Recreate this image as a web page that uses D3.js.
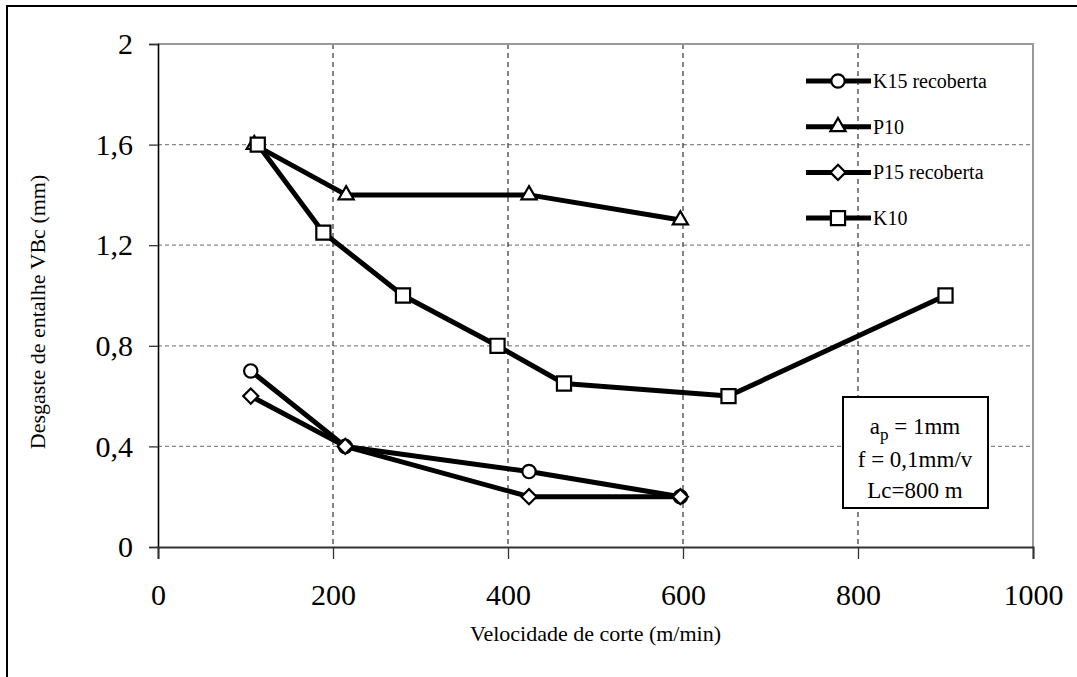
<!DOCTYPE html>
<html>
<head>
<meta charset="utf-8">
<script src="https://cdn.jsdelivr.net/npm/d3@7"></script>
<style>
  body { margin: 0; background: #fff; }
  svg text { font-family: "Liberation Serif", "Tinos", "Times New Roman", "Nimbus Roman", "DejaVu Serif", serif; fill: #000; }
</style>
</head>
<body>
<svg id="chart" width="1077" height="677"></svg>
<script>
// velocidade de corte (m/min) and desgaste VBc (mm) for each tool
const k15Speed = [106, 214, 424, 597];
const k15Wear  = [0.7, 0.4, 0.3, 0.2];
const p10Speed = [110, 215, 424, 597];
const p10Wear  = [1.6, 1.4, 1.4, 1.3];
const p15Speed = [106, 214, 424, 597];
const p15Wear  = [0.6, 0.4, 0.2, 0.2];
const k10Speed = [114, 189, 280, 388, 464, 652, 900];
const k10Wear  = [1.6, 1.25, 1.0, 0.8, 0.65, 0.6, 1.0];

const xTicks = [0, 200, 400, 600, 800, 1000];
const yTicks = [0, 0.4, 0.8, 1.2, 1.6, 2];
const noteLines = ["f = 0,1mm/v", "Lc=800 m"];

// rotated square looks closer to the Excel diamond than d3.symbolDiamond
const squareDiamond = {
  draw(ctx, size) {
    const r = Math.sqrt(size / 2);
    ctx.moveTo(0, -r); ctx.lineTo(r, 0); ctx.lineTo(0, r); ctx.lineTo(-r, 0); ctx.closePath();
  }
};

const series = [
  { name: "K15 recoberta", sym: d3.symbolCircle, size: 140, x: k15Speed, y: k15Wear },
  { name: "P10", sym: d3.symbolTriangle, size: 100, x: p10Speed, y: p10Wear },
  { name: "P15 recoberta", sym: squareDiamond, size: 115, x: p15Speed, y: p15Wear },
  { name: "K10", sym: d3.symbolSquare, size: 200, x: k10Speed, y: k10Wear }
];

const svg = d3.select("#chart");
const pLeft = 158, pRight = 1033, pTop = 44, pBottom = 547;
const serif = '"Liberation Serif", "Tinos", "Times New Roman", "Nimbus Roman", "DejaVu Serif", serif';

const x = d3.scaleLinear().domain([0, 1000]).range([pLeft, pRight]);
const y = d3.scaleLinear().domain([0, 2]).range([pBottom, pTop]);

// outer frame (runs off the right/bottom edge)
svg.append("rect").attr("x", 7).attr("y", 6).attr("width", 1100).attr("height", 700)
  .attr("fill", "none").attr("stroke", "#000").attr("stroke-width", 2);

// grid
svg.append("g").selectAll("line").data(yTicks.filter(d => d > 0 && d < 2)).join("line")
  .attr("x1", pLeft).attr("x2", pRight).attr("y1", d => y(d)).attr("y2", d => y(d))
  .attr("stroke", "#888").attr("stroke-width", 1.2).attr("stroke-dasharray", "4,3");
svg.append("g").selectAll("line").data(xTicks.filter(d => d > 0 && d < 1000)).join("line")
  .attr("x1", d => x(d)).attr("x2", d => x(d)).attr("y1", pTop).attr("y2", pBottom)
  .attr("stroke", "#333").attr("stroke-width", 1.2).attr("stroke-dasharray", "5,4");

// plot border top/right
svg.append("path").attr("d", `M${pLeft},${pTop}H${pRight}V${pBottom}`)
  .attr("fill", "none").attr("stroke", "#999").attr("stroke-width", 2);

// axes
const fmt = d => String(d).replace(".", ",");
const yAxis = svg.append("g").attr("transform", `translate(${pLeft},0)`)
  .call(d3.axisLeft(y).tickValues(yTicks).tickFormat(fmt).tickSize(9).tickPadding(16));
const xAxis = svg.append("g").attr("transform", `translate(0,${pBottom})`)
  .call(d3.axisBottom(x).tickValues(xTicks).tickFormat(d => String(d)).tickSize(12).tickPadding(25));
yAxis.attr("font-family", serif);
xAxis.attr("font-family", serif);
yAxis.select(".domain").attr("stroke", "#000").attr("stroke-width", 1.6);
xAxis.select(".domain").attr("stroke", "#333").attr("stroke-width", 2);
[yAxis, xAxis].forEach(a => {
  a.selectAll(".tick line").attr("stroke", "#333").attr("stroke-width", 1.3);
  a.selectAll(".tick text").attr("font-family", serif).style("font-size", "30px");
});

// axis titles
svg.append("text").attr("x", (pLeft + pRight) / 2).attr("y", 641).attr("text-anchor", "middle")
  .style("font-size", "22px").text("Velocidade de corte (m/min)");
svg.append("text").attr("transform", "translate(45,312) rotate(-90)").attr("text-anchor", "middle")
  .style("font-size", "22px").text("Desgaste de entalhe VBc (mm)");

// series
const line = d3.line();
series.forEach(s => {
  const pts = s.x.map((v, i) => [x(v), y(s.y[i])]);
  svg.append("path").attr("d", line(pts)).attr("fill", "none")
    .attr("stroke", "#000").attr("stroke-width", 5).attr("stroke-linejoin", "round");
});
series.forEach(s => {
  const sym = d3.symbol().type(s.sym).size(s.size);
  svg.append("g").selectAll("path").data(s.x.map((v, i) => [v, s.y[i]])).join("path")
    .attr("transform", d => `translate(${x(d[0])},${y(d[1])})`)
    .attr("d", sym).attr("fill", "#fff").attr("stroke", "#000").attr("stroke-width", 2.2);
});

// legend
const lg = svg.append("g").attr("transform", "translate(806,81)");
series.forEach((s, i) => {
  const g = lg.append("g").attr("transform", `translate(0,${i * 45.7})`);
  g.append("line").attr("x1", 0).attr("x2", 65).attr("stroke", "#000").attr("stroke-width", 5);
  g.append("path").attr("transform", "translate(32,0)")
    .attr("d", d3.symbol().type(s.sym).size(s.size)())
    .attr("fill", "#fff").attr("stroke", "#000").attr("stroke-width", 2.2);
  g.append("text").attr("x", 67).attr("y", 7).style("font-size", "20px").text(s.name);
});

// note box
const nb = svg.append("g");
nb.append("rect").attr("x", 843).attr("y", 397).attr("width", 145).attr("height", 111)
  .attr("fill", "#fff").attr("stroke", "#000").attr("stroke-width", 2);
const t0 = nb.append("text").attr("x", 915).attr("y", 434).attr("text-anchor", "middle").style("font-size", "23px");
t0.append("tspan").text("a");
t0.append("tspan").attr("dy", 6).style("font-size", "17px").text("p");
t0.append("tspan").attr("dy", -6).text(" = 1mm");
noteLines.forEach((t, i) => {
  nb.append("text").attr("x", 915).attr("y", 467 + i * 31).attr("text-anchor", "middle")
    .style("font-size", "23px").text(t);
});
</script>
</body>
</html>
